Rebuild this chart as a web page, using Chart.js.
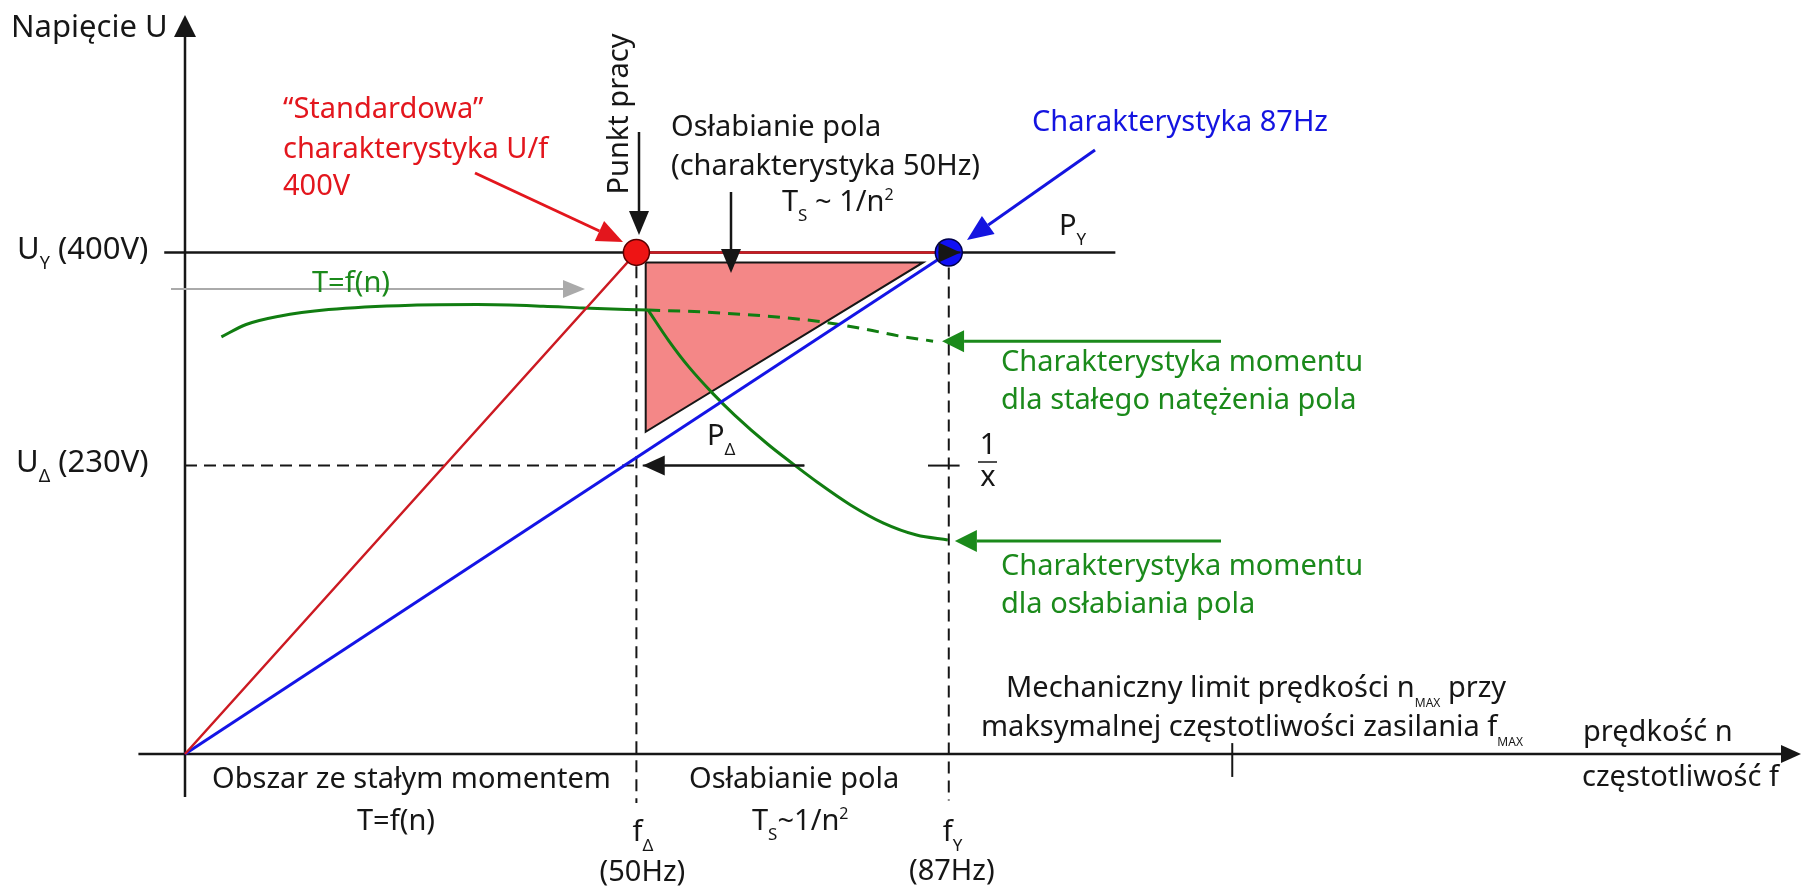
<!DOCTYPE html>
<html><head><meta charset="utf-8">
<script src="https://cdn.jsdelivr.net/npm/chart.js@4.4.1/dist/chart.umd.min.js"></script>
<style>html,body{margin:0;padding:0;background:#fff;overflow:hidden}canvas{display:block}</style>
</head><body>
<canvas id="c" width="1807" height="888"></canvas>
<script>
// ---------- data (x: frequency position as drawn on the diagram, y: voltage [V]) ----------
const fDelta = 50;          // f_Δ (50Hz)
const fY = 84.6;            // f_Y (87Hz) – position as drawn (diagram not to scale)
const fMax = 116;           // mechanical limit tick
const uY = 400;             // U_Y (400V)
const uDelta = 230;         // U_Δ (230V)
const redCurveX = [0, 50, 84.6];
const redCurveY = [0, 400, 400];
const blueCurveX = [0, 84.6];
const blueCurveY = [0, 400];
const torqueConstX = [4.03, 6.77, 10.43, 15.91, 25.05, 32.37, 39.7, 44.09, 51.3];
const torqueConstY = [332.6, 342.5, 349.1, 354.4, 357.9, 358.4, 357.1, 355.7, 354.0];
const torqueDashX = [51.3, 57.25, 64.56, 70.05, 75.54, 79.2, 82.86];
const torqueDashY = [354.0, 352.5, 349.1, 345.1, 338.5, 333.2, 329.2];
const torqueWeakX = [51.3, 53.59, 55.78, 58.53, 60.91, 64.56, 67.13, 70.05, 73.72, 77.37, 81.03, 84.5];
const torqueWeakY = [354.0, 329.5, 308.9, 287.0, 270.1, 247.0, 232.5, 216.7, 198.6, 184.1, 174.6, 170.7];
const triangleX = [51.03, 81.76, 51.03, 51.03];
const triangleY = [392.0, 392.0, 256.9, 392.0];

// ---------- helpers ----------
const pts = (xs, ys) => xs.map((x, i) => ({ x: x, y: ys[i] }));
const FONT = '"Noto Sans", "DejaVu Sans", sans-serif';
const STY = { '': [29, 0], sub: [17, 13], sup: [16, -8], tiny: [12, 15], big: [31, 0], bsub: [18, 14] };
const BLACK = '#161616', RED = '#e3161d', BLUE = '#1414e0', GREEN = '#1b8a1b';

function arrow(ctx, x1, y1, x2, y2, color, lw, hl, hw) {
  const a = Math.atan2(y2 - y1, x2 - x1);
  const bx = x2 - hl * Math.cos(a), by = y2 - hl * Math.sin(a);
  ctx.save();
  ctx.strokeStyle = color; ctx.fillStyle = color; ctx.lineWidth = lw;
  ctx.beginPath(); ctx.moveTo(x1, y1); ctx.lineTo(bx, by); ctx.stroke();
  ctx.beginPath(); ctx.moveTo(x2, y2);
  ctx.lineTo(bx + hw * Math.sin(a), by - hw * Math.cos(a));
  ctx.lineTo(bx - hw * Math.sin(a), by + hw * Math.cos(a));
  ctx.closePath(); ctx.fill();
  ctx.restore();
}
function seg(ctx, x1, y1, x2, y2, color, lw) {
  ctx.save(); ctx.strokeStyle = color; ctx.lineWidth = lw;
  ctx.beginPath(); ctx.moveTo(x1, y1); ctx.lineTo(x2, y2); ctx.stroke(); ctx.restore();
}
function rich(ctx, x, y, parts, color, align) {
  ctx.save(); ctx.fillStyle = color; ctx.textBaseline = 'middle'; ctx.textAlign = 'left';
  let w = 0;
  parts.forEach(p => { const s = STY[p[1] || '']; ctx.font = s[0] + 'px ' + FONT; w += ctx.measureText(p[0]).width; });
  let cx = align === 'center' ? x - w / 2 : x;
  parts.forEach(p => {
    const s = STY[p[1] || ''];
    ctx.font = s[0] + 'px ' + FONT;
    ctx.fillText(p[0], cx, y + s[1]);
    cx += ctx.measureText(p[0]).width;
  });
  ctx.restore();
}

const diagramPlugin = {
  id: 'diagram',
  beforeDatasetsDraw(chart) {
    const ctx = chart.ctx, xs = chart.scales.x, ys = chart.scales.y;
    const X = v => xs.getPixelForValue(v), Y = v => ys.getPixelForValue(v);
    // axes
    arrow(ctx, X(-5.16), Y(0), X(179), Y(0), BLACK, 2.5, 20, 9);
    arrow(ctx, X(0), Y(-34.2), X(0), Y(589.3), BLACK, 2.5, 22, 11);
    seg(ctx, X(fMax), Y(8.7), X(fMax), Y(-18.3), BLACK, 2);
  },
  afterDatasetsDraw(chart) {
    const ctx = chart.ctx, xs = chart.scales.x, ys = chart.scales.y;
    const X = v => xs.getPixelForValue(v), Y = v => ys.getPixelForValue(v);
    const dLast = torqueDashX.length - 1, wLast = torqueWeakX.length - 1;
    // pointer arrows
    arrow(ctx, 475, 173, 623, 242, RED, 3, 26, 11);
    arrow(ctx, 639, 132, 639, 235, BLACK, 2.5, 24, 10);
    arrow(ctx, 731, 192, 731, 273, BLACK, 2.5, 24, 10);
    arrow(ctx, 1095, 150, 967, 240, BLUE, 3, 26, 11);
    arrow(ctx, X(85.9), Y(uY), X(85.9), Y(uY), BLACK, 2, 22, 10);
    arrow(ctx, X(68.6), Y(uDelta), X(50.7), Y(uDelta), BLACK, 2, 22, 10);
    seg(ctx, X(82.3), Y(uDelta), X(85.8), Y(uDelta), BLACK, 2);
    arrow(ctx, 171, 289, 585, 289, '#aaaaaa', 2, 22, 9);
    arrow(ctx, 1221, Y(torqueDashY[dLast]), X(torqueDashX[dLast]) + 9, Y(torqueDashY[dLast]), GREEN, 3, 22, 11);
    arrow(ctx, 1221, Y(torqueWeakY[wLast]) + 1, X(torqueWeakX[wLast]) + 7, Y(torqueWeakY[wLast]) + 1, GREEN, 3, 22, 11);

    // texts
    rich(ctx, 11, 28, [['Napięcie U', 'big']], BLACK);
    rich(ctx, 283, 110, [['\u201CStandardowa\u201D']], RED);
    rich(ctx, 283, 150, [['charakterystyka U/f']], RED);
    rich(ctx, 283, 187, [['400V']], RED);
    ctx.save(); ctx.translate(620, 114); ctx.rotate(-Math.PI / 2);
    rich(ctx, 0, 0, [['Punkt pracy']], BLACK, 'center'); ctx.restore();
    rich(ctx, 671, 128, [['Osłabianie pola']], BLACK);
    rich(ctx, 671, 167, [['(charakterystyka 50Hz)']], BLACK);
    rich(ctx, 782, 203, [['T'], ['S', 'sub'], [' ~ 1/n'], ['2', 'sup']], BLACK);
    rich(ctx, 1032, 123, [['Charakterystyka 87Hz']], BLUE);
    rich(ctx, 1059, 227, [['P'], ['Y', 'sub']], BLACK);
    rich(ctx, 17, 250, [['U', 'big'], ['Y', 'bsub'], [' (400V)', 'big']], BLACK);
    rich(ctx, 16, 463, [['U', 'big'], ['\u0394', 'bsub'], [' (230V)', 'big']], BLACK);
    rich(ctx, 312, 284, [['T=f(n)']], GREEN);
    rich(ctx, 707, 437, [['P'], ['\u0394', 'sub']], BLACK);
    rich(ctx, 988, 446, [['1']], BLACK, 'center');
    seg(ctx, 978, 462, 997, 462, BLACK, 1.5);
    rich(ctx, 988, 478, [['x']], BLACK, 'center');
    rich(ctx, 1001, 363, [['Charakterystyka momentu']], GREEN);
    rich(ctx, 1001, 401, [['dla stałego natężenia pola']], GREEN);
    rich(ctx, 1001, 567, [['Charakterystyka momentu']], GREEN);
    rich(ctx, 1001, 605, [['dla osłabiania pola']], GREEN);
    rich(ctx, 1006, 689, [['Mechaniczny limit prędkości n'], ['MAX', 'tiny'], [' przy']], BLACK);
    rich(ctx, 981, 728, [['maksymalnej częstotliwości zasilania f'], ['MAX', 'tiny']], BLACK);
    rich(ctx, 1583, 733, [['prędkość n']], BLACK);
    rich(ctx, 1582, 778, [['częstotliwość f']], BLACK);
    rich(ctx, 212, 780, [['Obszar ze stałym momentem']], BLACK);
    rich(ctx, 357, 822, [['T=f(n)']], BLACK);
    rich(ctx, 689, 780, [['Osłabianie pola']], BLACK);
    rich(ctx, 752, 822, [['T'], ['S', 'sub'], ['~1/n'], ['2', 'sup']], BLACK);
    rich(ctx, X(fDelta) - 4, 833, [['f'], ['\u0394', 'sub']], BLACK);
    rich(ctx, X(fDelta) + 6, 873, [['(50Hz)']], BLACK, 'center');
    rich(ctx, X(fY) - 6, 833, [['f'], ['Y', 'sub']], BLACK);
    rich(ctx, X(fY) + 3, 872, [['(87Hz)']], BLACK, 'center');
  }
};

const lineDs = (data, color, width, order, extra) => Object.assign({
  data: data, showLine: true, borderColor: color, borderWidth: width,
  pointRadius: 0, pointHoverRadius: 0, fill: false, tension: 0, order: order, clip: false
}, extra || {});

function build() {
  new Chart(document.getElementById('c'), {
    type: 'scatter',
    data: {
      datasets: [
        lineDs(pts(triangleX, triangleY), BLACK, 2, 20, { fill: 'shape', backgroundColor: '#f48787' }),
        lineDs(pts([0, fDelta], [uDelta, uDelta]), BLACK, 2, 15, { borderDash: [12, 7] }),
        lineDs(pts([fDelta, fDelta], [388.9, -39]), BLACK, 2, 15, { borderDash: [12, 7] }),
        lineDs(pts([fY, fY], [388, -37]), BLACK, 2, 15, { borderDash: [12, 7] }),
        lineDs(pts([-2.3, 103.05], [uY, uY]), BLACK, 2.5, 14),
        lineDs(pts([68.6, 50.7], [uDelta, uDelta]), BLACK, 2, 14),
        lineDs(pts(torqueConstX, torqueConstY), '#117d11', 3, 8, { cubicInterpolationMode: 'monotone' }),
        lineDs(pts(torqueDashX, torqueDashY), '#117d11', 3, 8, { cubicInterpolationMode: 'monotone', borderDash: [12, 8] }),
        lineDs(pts(torqueWeakX, torqueWeakY), '#117d11', 3, 8, { cubicInterpolationMode: 'monotone' }),
        lineDs(pts(blueCurveX, blueCurveY), '#1414e6', 3, 7),
        lineDs(pts(redCurveX, redCurveY), '#cc1a22', 2.5, 6),
        { data: [{ x: fDelta, y: uY }], pointRadius: 13, pointHoverRadius: 13, backgroundColor: '#ee1414', borderColor: '#5a0000', borderWidth: 1.5, order: 1, clip: false },
        { data: [{ x: fY, y: uY }], pointRadius: 13.5, pointHoverRadius: 13.5, backgroundColor: '#1010f5', borderColor: '#00004a', borderWidth: 1.5, order: 1, clip: false }
      ]
    },
    options: {
      responsive: false, animation: false, devicePixelRatio: 1,
      layout: { padding: { left: 185, right: 0, top: 13, bottom: 134 } },
      plugins: { legend: { display: false }, tooltip: { enabled: false } },
      events: [],
      scales: {
        x: { type: 'linear', min: 0, max: 178, display: false },
        y: { type: 'linear', min: 0, max: 589.3, display: false }
      }
    },
    plugins: [diagramPlugin]
  });
}
const loads = [document.fonts.load('29px "Noto Sans"'), document.fonts.load('17px "Noto Sans"')];
Promise.all(loads).then(build, build);
</script>
</body></html>
